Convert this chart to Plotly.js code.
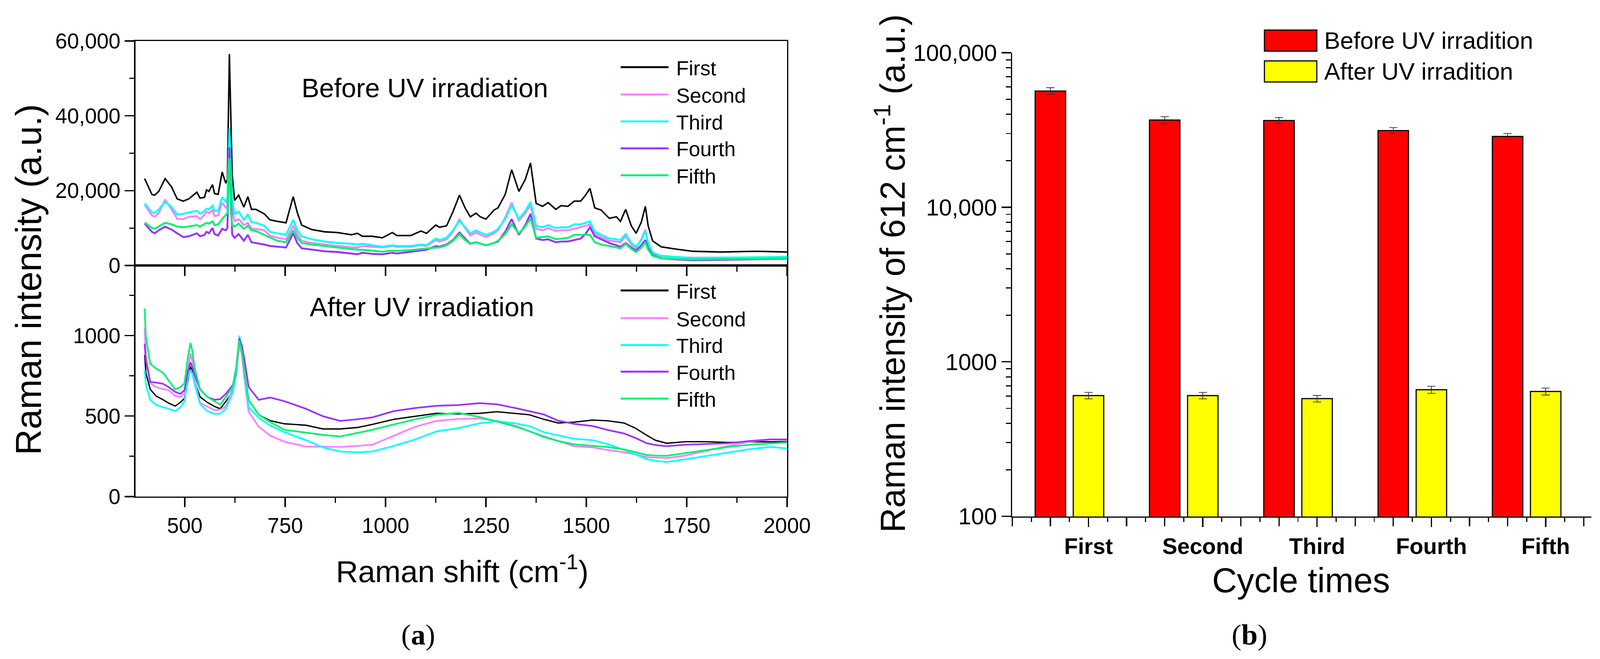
<!DOCTYPE html>
<html>
<head>
<meta charset="utf-8">
<script src="https://cdn.plot.ly/plotly-3.0.1.min.js"></script>
<style>
html, body { margin: 0; padding: 0; background: #fff; overflow: hidden; }
#chart { width: 100vw; height: 100vh; }
</style>
</head>
<body>
<div id="chart"></div>
<script>
// values
let series_names = ['First', 'Second', 'Third', 'Fourth', 'Fifth']
let series_colors = ['#000000', '#ff80ff', '#00ffff', '#9933ff', '#00f070']

// (a) top: before UV irradiation
let shift_before = [400, 418, 425, 435, 451, 467, 481, 496, 510, 530, 538, 549, 554, 560, 569, 574, 583, 593, 602, 606,
    611, 615, 618, 624, 634, 647, 657, 666, 677, 698, 712, 730, 752, 770, 780, 791, 816, 848, 880, 915,
    930, 942, 967, 992, 1017, 1028, 1063, 1088, 1102, 1125, 1134, 1152, 1168, 1184, 1198, 1211, 1225, 1236, 1250, 1270,
    1280, 1298, 1314, 1332, 1348, 1361, 1375, 1391, 1405, 1424, 1437, 1454, 1470, 1486, 1498, 1509, 1521, 1537, 1557, 1575,
    1585, 1598, 1612, 1624, 1637, 1647, 1654, 1665, 1686, 1722, 1764, 1835, 1924, 2000]
let before_first = [23200, 19000, 18800, 19800, 23200, 21000, 17800, 17200, 17800, 19600, 18000, 18200, 20200, 19800, 21600, 19200, 19000, 25000, 22000, 23000,
    56500, 37000, 24200, 17400, 18800, 15600, 18400, 15000, 15000, 13800, 12200, 11800, 11400, 18400, 14200, 10800, 9600, 9000, 8800, 8200,
    8600, 7800, 7800, 7400, 8800, 8000, 8000, 9200, 8600, 10800, 10200, 10600, 14400, 18800, 15400, 13000, 14000, 13000, 12400, 14800,
    15400, 19000, 25600, 19800, 23000, 27400, 16600, 15800, 16800, 15000, 16000, 15800, 17200, 17200, 18800, 20600, 15400, 14800, 12600, 13000,
    11800, 15000, 10600, 8600, 11600, 15800, 10600, 6600, 5000, 4400, 3800, 3600, 3800, 3600]
let before_second = [16200, 13400, 13000, 14000, 17600, 15000, 12400, 12400, 13000, 13200, 12400, 13600, 14400, 14000, 14800, 13200, 13400, 16800, 15400, 16000,
    33000, 22000, 15000, 11800, 12400, 10800, 11400, 9800, 9800, 9400, 8000, 7400, 7000, 10600, 8400, 6600, 6000, 5600, 5200, 4800,
    4800, 5200, 5000, 4800, 5200, 5000, 5000, 5400, 5200, 6800, 6400, 7000, 9000, 12400, 10000, 8000, 8800, 8200, 7600, 8600,
    9400, 12800, 16800, 12000, 14000, 16200, 9800, 9400, 10000, 9200, 9400, 9400, 9800, 10200, 10600, 11000, 8400, 7600, 6600, 6400,
    6200, 7800, 5600, 4600, 7000, 9600, 5800, 3200, 2400, 2200, 2100, 2100, 2200, 2200]
let before_third = [16600, 14200, 14000, 15000, 17000, 15600, 13600, 13800, 14200, 14600, 13800, 14600, 15200, 15000, 16000, 14600, 14600, 18200, 17000, 18000,
    36700, 24000, 17400, 13800, 14400, 12200, 13600, 11600, 11400, 10600, 9000, 8600, 8200, 12200, 9400, 7800, 7000, 6400, 6000, 5800,
    5600, 5800, 5400, 5000, 5400, 5200, 5200, 5600, 5400, 7200, 6800, 7400, 9400, 12000, 10200, 8600, 9400, 8800, 8200, 9000,
    9800, 12400, 16200, 12400, 14600, 17000, 10600, 10200, 10800, 10000, 10200, 10200, 11000, 11000, 11400, 11800, 9000, 8200, 7200, 7000,
    6800, 8400, 6000, 5000, 6800, 9200, 6000, 3400, 2600, 2300, 2000, 2100, 2200, 2300]
let before_fourth = [11200, 9000, 8600, 9400, 10400, 9600, 8600, 7600, 7800, 8600, 7800, 8200, 9000, 8600, 10000, 8400, 8000, 9800, 9400, 10000,
    31500, 16000, 8200, 7400, 8400, 6600, 8200, 6200, 6000, 5600, 5200, 5000, 4800, 8600, 6000, 4600, 4200, 3800, 3600, 3200,
    3000, 3400, 3100, 3000, 3400, 3200, 3600, 4000, 4200, 5200, 5000, 5600, 6800, 8800, 7200, 5800, 6200, 5800, 5400, 6000,
    6400, 9000, 12400, 8200, 10800, 13800, 7200, 6800, 7000, 6200, 6400, 6400, 6800, 7200, 8400, 10200, 7800, 7000, 6000, 5400,
    5000, 6000, 4800, 4000, 5400, 6800, 4600, 2800, 1900, 1600, 1400, 1500, 1700, 1800]
let before_fifth = [11500, 10000, 9800, 10400, 11400, 11000, 10400, 10200, 10400, 10800, 10400, 11000, 11400, 11200, 11800, 10800, 11000, 12400, 13400, 14000,
    28700, 14000, 10800, 10400, 11200, 9800, 10600, 9400, 9200, 8200, 7400, 6600, 6200, 9400, 7400, 6000, 5600, 5200, 4800, 4400,
    4200, 4200, 4000, 3700, 4000, 3900, 4100, 4400, 4500, 4800, 4800, 5400, 6600, 8400, 6800, 5800, 6200, 5800, 5400, 6000,
    6600, 8400, 11000, 8600, 10400, 12600, 7400, 7600, 7800, 7000, 7200, 7400, 8200, 8200, 8200, 8200, 6200, 5600, 5200, 4800,
    4600, 5800, 4400, 3600, 4800, 6200, 4200, 2600, 1900, 1700, 1600, 1700, 1800, 1800]

// (a) bottom: after UV irradiation
let shift_after = [400, 403, 414, 428, 446, 460, 476, 489, 499, 508, 514, 519, 524, 538, 556, 574, 588, 602, 620, 628,
    636, 642, 649, 659, 684, 713, 748, 802, 844, 887, 930, 967, 1021, 1074, 1127, 1181, 1234, 1277, 1323, 1358,
    1394, 1430, 1469, 1516, 1551, 1594, 1622, 1651, 1672, 1700, 1747, 1800, 1853, 1906, 1959, 2000]
let after_first = [880, 768, 666, 625, 601, 580, 562, 585, 610, 720, 805, 785, 722, 619, 585, 560, 545, 590, 657, 760,
    963, 900, 731, 600, 508, 471, 452, 443, 420, 420, 429, 448, 480, 499, 517, 513, 517, 527, 517, 508,
    480, 457, 462, 475, 471, 457, 425, 380, 350, 331, 341, 341, 336, 340, 340, 340]
let after_second = [1051, 880, 703, 680, 668, 660, 625, 619, 640, 800, 889, 840, 731, 582, 559, 536, 540, 560, 675, 780,
    935, 880, 722, 527, 434, 378, 341, 310, 310, 308, 315, 322, 378, 434, 470, 482, 485, 470, 440, 406,
    375, 345, 313, 305, 290, 275, 262, 245, 242, 239, 255, 285, 315, 341, 355, 350]
let after_third = [787, 694, 600, 570, 554, 545, 531, 554, 590, 740, 787, 760, 703, 575, 530, 513, 515, 545, 647, 780,
    1000, 900, 759, 554, 489, 440, 400, 350, 305, 280, 275, 280, 315, 355, 405, 425, 455, 468, 455, 438,
    400, 380, 359, 350, 327, 290, 262, 232, 222, 215, 232, 252, 272, 294, 308, 299]
let after_fourth = [949, 842, 712, 708, 700, 680, 650, 638, 660, 780, 833, 800, 759, 666, 619, 601, 605, 638, 694, 800,
    982, 940, 842, 680, 601, 615, 592, 545, 499, 470, 480, 492, 531, 550, 564, 568, 580, 573, 550, 530,
    510, 471, 452, 438, 415, 392, 364, 331, 320, 313, 322, 327, 331, 345, 355, 355]
let after_fifth = [1168, 991, 824, 796, 768, 722, 666, 680, 703, 870, 954, 900, 805, 666, 619, 592, 570, 619, 685, 800,
    968, 900, 768, 601, 508, 462, 415, 397, 383, 373, 397, 415, 448, 480, 508, 520, 494, 466, 435, 406,
    370, 345, 325, 315, 308, 293, 275, 258, 255, 253, 270, 290, 308, 322, 331, 336]

// tick labels
let top_ticks = [0, 20000, 40000, 60000]
let top_tick_text = ['0', '20,000', '40,000', '60,000']
let low_ticks = [0, 500, 1000]
let low_tick_text = ['0', '500', '1000']
let shift_ticks = [500, 750, 1000, 1250, 1500, 1750, 2000]
let shift_tick_text = ['500', '750', '1000', '1250', '1500', '1750', '2000']
let log_ticks = [100, 1000, 10000, 100000]
let log_tick_text = ['100', '1000', '10,000', '100,000']

// (b) intensity of the 612 cm-1 band
let cycle_labels = ['First', 'Second', 'Third', 'Fourth', 'Fifth']
let peak_before = [56500, 36660, 36420, 31360, 28730]
let peak_before_err = [2900, 1900, 1600, 1400, 1300]
let peak_after = [605, 605, 578, 660, 643]
let peak_after_err = [29, 29, 28, 35, 33]

// layout is designed on a 4277x1688 sheet and scaled to whatever the viewport really is
let DW = 4277, DH = 1688
let W = document.documentElement.clientWidth || DW
let H = document.documentElement.clientHeight || DH
let s = Math.min(W / DW, H / DH)
function fx(p) { return p / DW }
function fy(p) { return 1 - p / DH }
function S(v) { return v * s }

let fontSans = 'Arial, "Liberation Sans", sans-serif'
let fontSerif = '"Palatino Linotype", "Book Antiqua", "Liberation Serif", serif'

let before_all = [before_first, before_second, before_third, before_fourth, before_fifth]
let after_all = [after_first, after_second, after_third, after_fourth, after_fifth]

traces = []
for (i = 0; i < series_names.length; i++) {
    traces.push({ x: shift_before, y: before_all[i], xaxis: 'x', yaxis: 'y', type: 'scatter', mode: 'lines',
        name: series_names[i], line: { color: series_colors[i], width: S(i == 0 ? 4 : 5) }, showlegend: false })
}
for (i = 0; i < series_names.length; i++) {
    traces.push({ x: shift_after, y: after_all[i], xaxis: 'x2', yaxis: 'y2', type: 'scatter', mode: 'lines',
        name: series_names[i], line: { color: series_colors[i], width: S(i == 0 ? 3.5 : 4.5) }, showlegend: false })
}

// each cycle gets 3 slots on the axis: red bar, yellow bar, gap
let red_pos = cycle_labels.map(function (c, i) { return 3 * i + 1 })
let yellow_pos = cycle_labels.map(function (c, i) { return 3 * i + 2 })

traces.push({ type: 'bar', x: red_pos, y: peak_before, width: 0.8, xaxis: 'x3', yaxis: 'y3', name: 'Before UV irradition',
    marker: { color: '#ff0000', line: { color: '#000', width: S(3) } },
    error_y: { type: 'data', array: peak_before_err, color: '#333', thickness: S(2), width: S(11) }, showlegend: false })
traces.push({ type: 'bar', x: yellow_pos, y: peak_after, width: 0.8, xaxis: 'x3', yaxis: 'y3', name: 'After UV irradition',
    marker: { color: '#ffff00', line: { color: '#000', width: S(3) } },
    error_y: { type: 'data', array: peak_after_err, color: '#333', thickness: S(2), width: S(11) }, showlegend: false })
// empty trace so the tick-only overlay axis gets drawn
traces.push({ type: 'scatter', x: [], y: [], xaxis: 'x4', yaxis: 'y3', showlegend: false, hoverinfo: 'skip' })

// unlabeled slot ticks of panel b (every slot, half-slot minors)
let slot_ticks = []
for (k = 0; k <= 15; k++) slot_ticks.push(k)
let log_minor = []
for (d of [100, 1000, 10000]) {
    for (m = 2; m <= 9; m++) log_minor.push(m * d)
}

let axisBase = {
    showline: true, linewidth: S(3.5), linecolor: '#000', showgrid: false, zeroline: false,
    ticks: 'outside', ticklen: S(25), tickwidth: S(3.5), tickcolor: '#000', automargin: false,
    tickfont: { family: fontSans, size: S(57), color: '#000' }, ticklabelstandoff: S(14)
}
function ax(extra) { return Object.assign({}, axisBase, extra) }
let minorBase = { ticks: 'outside', ticklen: S(13), tickwidth: S(3), tickcolor: '#000', showgrid: false }

let shiftDomain = [fx(362), fx(2104)]
let cycleDomain = [fx(2706), fx(4254)]

layout = {
    width: W, height: H, autosize: false,
    margin: { l: 0, r: 0, t: 0, b: 0, pad: 0 },
    paper_bgcolor: '#fff', plot_bgcolor: 'rgba(0,0,0,0)',
    showlegend: false, barmode: 'overlay',
    font: { family: fontSans, color: '#000' },
    xaxis: ax({ domain: shiftDomain, anchor: 'y', range: [377, 2000], showticklabels: false,
        tickmode: 'array', tickvals: shift_ticks, mirror: true,
        minor: Object.assign({}, minorBase, { tick0: 500, dtick: 125 }) }),
    yaxis: ax({ domain: [fy(680), fy(105)], anchor: 'x', range: [0, 60000],
        tickmode: 'array', tickvals: top_ticks, ticktext: top_tick_text, mirror: true,
        minor: Object.assign({}, minorBase, { tickvals: [10000, 30000, 50000] }) }),
    xaxis2: ax({ domain: shiftDomain, anchor: 'y2', range: [377, 2000], ticklabelstandoff: S(-30),
        tickmode: 'array', tickvals: shift_ticks, ticktext: shift_tick_text, mirror: true,
        minor: Object.assign({}, minorBase, { tick0: 500, dtick: 125 }) }),
    yaxis2: ax({ domain: [fy(1272), fy(680)], anchor: 'x2', range: [0, 1435],
        tickmode: 'array', tickvals: low_ticks, ticktext: low_tick_text, mirror: true,
        minor: Object.assign({}, minorBase, { tickvals: [250, 750, 1250] }) }),
    xaxis3: ax({ domain: cycleDomain, anchor: 'y3', range: [0, 15.2],
        tickmode: 'array', tickvals: yellow_pos, ticktext: cycle_labels, ticklabelstandoff: S(-17),
        tickfont: { family: fontSans, size: S(60), color: '#000', weight: 'bold' } }),
    xaxis4: ax({ domain: cycleDomain, anchor: 'y3', overlaying: 'x3', side: 'bottom', range: [0, 15.2],
        showline: false, showticklabels: false, tickmode: 'array', tickvals: slot_ticks,
        minor: Object.assign({}, minorBase, { tick0: 0, dtick: 0.5, ticklen: S(14) }) }),
    yaxis3: ax({ type: 'log', domain: [fy(1322.7), fy(135)], anchor: 'x3', range: [2, 5],
        tickmode: 'array', tickvals: log_ticks, ticktext: log_tick_text, ticklabelstandoff: S(24),
        tickfont: { family: fontSans, size: S(62), color: '#000' },
        minor: Object.assign({}, minorBase, { tickvals: log_minor, ticklen: S(14) }) }),
    annotations: [],
    shapes: []
}

function label(text, px, py, size, extra) {
    layout.annotations.push(Object.assign({
        text: text, xref: 'paper', yref: 'paper', x: fx(px), y: fy(py), showarrow: false,
        xanchor: 'center', yanchor: 'middle', font: { family: fontSans, size: S(size), color: '#000' }
    }, extra || {}))
}

label('Before UV irradiation', 1136, 225, 71)
label('After UV irradiation', 1128, 786, 71)
label('Raman intensity (a.u.)', 76, 716, 96, { textangle: -90 })
label('Raman shift (cm<sup>-1</sup>)', 1236, 1458, 82)
label('(<b>a</b>)', 1118, 1625, 78, { font: { family: fontSerif, size: S(78), color: '#000' } })
label('Raman intensity of 612 cm<sup>-1</sup> (a.u.)', 2380, 700, 92, { textangle: -90 })
label('Cycle times', 3478, 1486, 92)
label('(<b>b</b>)', 3340, 1625, 78, { font: { family: fontSerif, size: S(78), color: '#000' } })

// line legends of panel a
let legend_rows_top = [172, 242, 311, 380, 449]
let legend_rows_low = [744, 815, 884, 952, 1021]
for (rows of [legend_rows_top, legend_rows_low]) {
    rows.forEach(function (r, i) {
        layout.shapes.push({ type: 'line', xref: 'paper', yref: 'paper', x0: fx(1659), x1: fx(1787), y0: fy(r), y1: fy(r),
            line: { color: series_colors[i], width: S(5) } })
        label(series_names[i], 1805, r + 2, 55, { xanchor: 'left' })
    })
}

// box legend of panel b
layout.shapes.push({ type: 'rect', xref: 'paper', yref: 'paper', x0: fx(3380), x1: fx(3520), y0: fy(131), y1: fy(77),
    fillcolor: '#ff0000', line: { color: '#000', width: S(3) } })
layout.shapes.push({ type: 'rect', xref: 'paper', yref: 'paper', x0: fx(3380), x1: fx(3520), y0: fy(210), y1: fy(156),
    fillcolor: '#ffff00', line: { color: '#000', width: S(3) } })
label('Before UV irradition', 3538, 104, 64, { xanchor: 'left' })
label('After UV irradition', 3538, 183, 64, { xanchor: 'left' })

Plotly.newPlot('chart', traces, layout, { displayModeBar: false, staticPlot: true })
</script>
</body>
</html>
